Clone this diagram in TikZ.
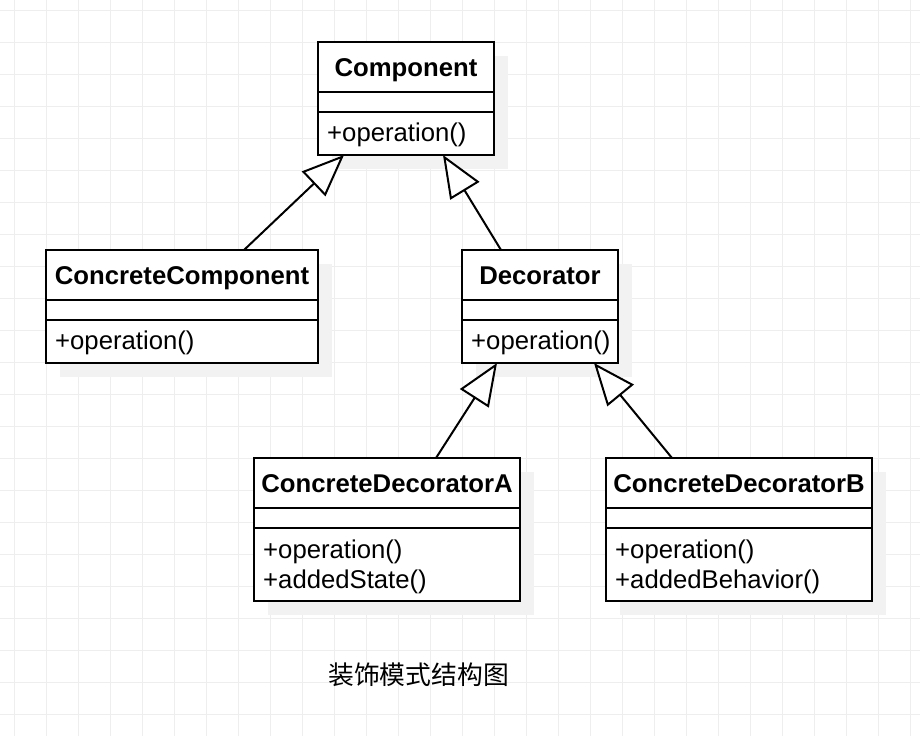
\documentclass[tikz,border=0pt]{standalone}
\usepackage{fontspec}
\setmainfont{Liberation Sans}
\newfontfamily\cjk{Noto Sans CJK SC}
\usetikzlibrary{arrows.meta,shadows}
\definecolor{gridgray}{HTML}{EEEEEE}
\definecolor{shadowgray}{HTML}{F2F2F2}

\begin{document}
\begin{tikzpicture}[x=1pt, y=-1pt,
                    every node/.style={font=\fontsize{25.7}{30}\selectfont, inner sep=0pt},
                    classbox/.style={draw=black, line width=2pt, outer sep=0pt, fill=white,
                                     drop shadow={shadow xshift=14pt, shadow yshift=-14pt, fill=shadowgray, opacity=1}},
                    classname/.style={font=\fontsize{25.7}{30}\selectfont\bfseries, anchor=base},
                    classops/.style={anchor=west, align=left},
                    sepline/.style={line width=2pt},
                    inherits/.style={line width=2pt, -{Triangle[fill=white, length=42pt, width=34pt]}},
                    gridline/.style={draw=gridgray, line width=1pt}]

    % Background and grid
    \fill[white] (0,0) rectangle (920,736);
    \useasboundingbox (0,0) rectangle (920,736);
    \foreach \gx in {14,46,...,910} \draw[gridline] (\gx,0) -- (\gx,736);
    \foreach \gy in {10,42,...,714} \draw[gridline] (0,\gy) -- (920,\gy);

    % Component
    \node[classbox, minimum width=176pt, minimum height=113pt] (comp) at (406,98.5) {};
    \node[classname] (compname) at ([yshift=-34pt]comp.north) {Component};
    \draw[sepline] ([yshift=-50pt]comp.north west) -- ([yshift=-50pt]comp.north east);
    \draw[sepline] ([yshift=-70pt]comp.north west) -- ([yshift=-70pt]comp.north east);
    \node[classops] (compops) at ([xshift=9pt, yshift=20pt]comp.south west) {+operation()};

    % ConcreteComponent
    \node[classbox, minimum width=272pt, minimum height=113pt] (cc) at (182,306.5) {};
    \node[classname] (ccname) at ([yshift=-34pt]cc.north) {ConcreteComponent};
    \draw[sepline] ([yshift=-50pt]cc.north west) -- ([yshift=-50pt]cc.north east);
    \draw[sepline] ([yshift=-70pt]cc.north west) -- ([yshift=-70pt]cc.north east);
    \node[classops] (ccops) at ([xshift=9pt, yshift=20pt]cc.south west) {+operation()};

    % Decorator
    \node[classbox, minimum width=156pt, minimum height=113pt] (deco) at (540,306.5) {};
    \node[classname] (deconame) at ([yshift=-34pt]deco.north) {Decorator};
    \draw[sepline] ([yshift=-50pt]deco.north west) -- ([yshift=-50pt]deco.north east);
    \draw[sepline] ([yshift=-70pt]deco.north west) -- ([yshift=-70pt]deco.north east);
    \node[classops] (decoops) at ([xshift=9pt, yshift=20pt]deco.south west) {+operation()};

    % ConcreteDecoratorA
    \node[classbox, minimum width=266pt, minimum height=143pt] (cda) at (387,529.5) {};
    \node[classname] (cdaname) at ([yshift=-34pt]cda.north) {ConcreteDecoratorA};
    \draw[sepline] ([yshift=-50pt]cda.north west) -- ([yshift=-50pt]cda.north east);
    \draw[sepline] ([yshift=-70pt]cda.north west) -- ([yshift=-70pt]cda.north east);
    \node[classops] (cdaops) at ([xshift=9pt, yshift=34.5pt]cda.south west) {+operation()\\+addedState()};

    % ConcreteDecoratorB
    \node[classbox, minimum width=266pt, minimum height=143pt] (cdb) at (739,529.5) {};
    \node[classname] (cdbname) at ([yshift=-34pt]cdb.north) {ConcreteDecoratorB};
    \draw[sepline] ([yshift=-50pt]cdb.north west) -- ([yshift=-50pt]cdb.north east);
    \draw[sepline] ([yshift=-70pt]cdb.north west) -- ([yshift=-70pt]cdb.north east);
    \node[classops] (cdbops) at ([xshift=9pt, yshift=34.5pt]cdb.south west) {+operation()\\+addedBehavior()};

    % Generalization arrows
    \draw[inherits] ([xshift=62pt]cc.north) -- ([xshift=-62pt]comp.south);
    \draw[inherits] ([xshift=-39pt]deco.north) -- ([xshift=37pt]comp.south);
    \draw[inherits] ([xshift=49pt]cda.north) -- ([xshift=-43pt]deco.south);
    \draw[inherits] ([xshift=-67pt]cdb.north) -- ([xshift=54pt]deco.south);

    % Caption
    \node[font=\fontsize{25.8}{30}\selectfont] (caption) at (418.5,675) {\cjk 装饰模式结构图};
\end{tikzpicture}
\end{document}
